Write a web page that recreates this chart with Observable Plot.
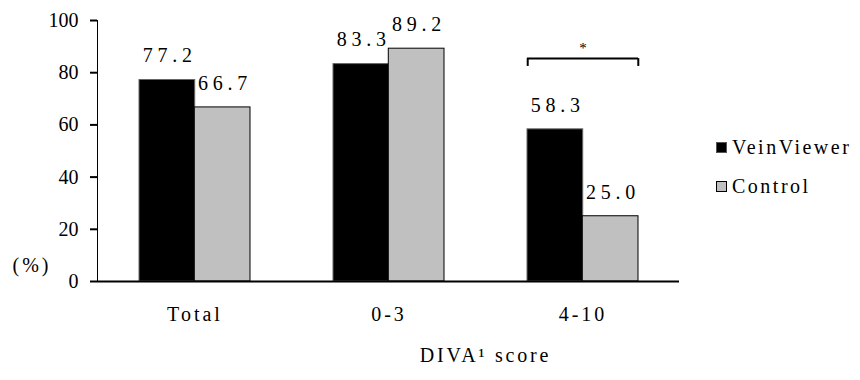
<!DOCTYPE html>
<html>
<head>
<meta charset="utf-8">
<script src="https://cdn.jsdelivr.net/npm/d3@7"></script>
<script src="https://cdn.jsdelivr.net/npm/@observablehq/plot@0.6"></script>
<style>
  body { margin: 0; background: #fff; }
  #wrap { position: relative; width: 860px; height: 380px; color: #000; font-family: 'Liberation Serif'; }
  g[aria-label="x-axis tick label"] text { letter-spacing: 3px; }
  .legend { position: absolute; left: 716px; font-size: 20px; letter-spacing: 2.5px; display: flex; align-items: center; font-family: 'Liberation Serif'; }
  .legend .sw { width: 9px; height: 9px; margin-right: 5px; box-sizing: content-box; }
</style>
</head>
<body>
<div id="wrap"></div>
<script>
const categories = ["Total", "0-3", "4-10"];
const seriesNames = ["VeinViewer", "Control"];
const veinViewer = [77.2, 83.3, 58.3];
const control = [66.7, 89.2, 25.0];
const yTicks = [0, 20, 40, 60, 80, 100];
const sigCategory = "4-10";
const sigBracket = [82.4, 85.4];
const sigStar = 89.5;
const sigLabel = "*";
const xTitle = "DIVA¹ score";
const yUnit = "(%)";

const FF = "Liberation Serif";
const W = 860, H = 380, ML = 97, MR = 181, MT = 20, MB = 99;
const padIn = 0.43, padOut = padIn / 2;
const step = (W - ML - MR) / (categories.length - padIn + 2 * padOut);
const bw = step * (1 - padIn);
const valueSpacing = 4.7;

const vv = categories.map((c, i) => ({cat: c, v: veinViewer[i]}));
const ct = categories.map((c, i) => ({cat: c, v: control[i]}));
const fmt = d => d.v.toFixed(1);

const chart = Plot.plot({
  width: W, height: H,
  marginLeft: ML, marginRight: MR, marginTop: MT, marginBottom: MB,
  style: {fontFamily: FF, fontSize: "20px", color: "#000", background: "#fff", overflow: "visible"},
  x: {domain: categories, paddingInner: padIn, paddingOuter: padOut, label: null, tickSize: 0, tickPadding: 25},
  y: {domain: [0, 100], ticks: yTicks, label: null, tickSize: 7, tickPadding: 12, line: true},
  marks: [
    Plot.barY(vv, {x: "cat", y: "v", fill: "#000", stroke: "#666", strokeWidth: 1, insetRight: bw / 2}),
    Plot.barY(ct, {x: "cat", y: "v", fill: "#c0c0c0", stroke: "#000", strokeWidth: 1, insetLeft: bw / 2}),
    Plot.ruleY([0], {stroke: "#000", strokeWidth: 2}),
    Plot.text(vv, {x: "cat", y: "v", text: fmt, dx: -bw / 4 + valueSpacing / 2, dy: -24, fontSize: 20, fontFamily: FF}),
    Plot.text(ct, {x: "cat", y: "v", text: fmt, dx: bw / 4 + valueSpacing / 2, dy: -24, fontSize: 20, fontFamily: FF}),
    Plot.tickY([{cat: sigCategory, y: sigBracket[1]}], {x: "cat", y: "y", stroke: "#000", strokeWidth: 2}),
    Plot.ruleX([{cat: sigCategory}], {x: "cat", y1: sigBracket[0], y2: sigBracket[1], dx: -bw / 2, stroke: "#000", strokeWidth: 2}),
    Plot.ruleX([{cat: sigCategory}], {x: "cat", y1: sigBracket[0], y2: sigBracket[1], dx: bw / 2, stroke: "#000", strokeWidth: 2}),
    Plot.text([{cat: sigCategory}], {x: "cat", y: sigStar, text: () => sigLabel, fontSize: 15, fill: "#000", fontFamily: FF}),
    Plot.text([xTitle], {frameAnchor: "bottom", text: d => d, dx: 97, dy: 80, fontSize: 20, fontFamily: FF}),
    Plot.text([yUnit], {frameAnchor: "bottom-left", text: d => d, dx: -85, dy: -10, fontSize: 20, fontFamily: FF})
  ]
});

const wrap = document.getElementById("wrap");
wrap.appendChild(chart);

// letter spacing, matched by text content
const valueStrings = new Set([...veinViewer, ...control].map(v => v.toFixed(1)));
chart.querySelectorAll("text").forEach(t => {
  const s = t.textContent.trim();
  if (valueStrings.has(s)) t.style.letterSpacing = valueSpacing + "px";
  else if (categories.includes(s)) t.style.letterSpacing = "3px";
  else if (s === xTitle) t.style.letterSpacing = "2.8px";
  else if (s === yUnit) t.style.letterSpacing = "3px";
});
chart.querySelectorAll('g[aria-label="x-axis tick label"] text').forEach(t => t.style.letterSpacing = "3px");
chart.querySelectorAll('[aria-label^="y-axis"] line, [aria-label^="y-axis"] path').forEach(e => e.style.strokeWidth = "2px");

const legendColors = [{fill: "#000", stroke: "#555"}, {fill: "#c0c0c0", stroke: "#000"}];
const legendTops = [136, 175];
seriesNames.forEach((name, i) => {
  const item = document.createElement("div");
  item.className = "legend";
  item.style.top = legendTops[i] + "px";
  const sw = document.createElement("span");
  sw.className = "sw";
  sw.style.background = legendColors[i].fill;
  sw.style.border = "1px solid " + legendColors[i].stroke;
  const tx = document.createElement("span");
  tx.textContent = name;
  item.appendChild(sw);
  item.appendChild(tx);
  wrap.appendChild(item);
});
</script>
</body>
</html>
